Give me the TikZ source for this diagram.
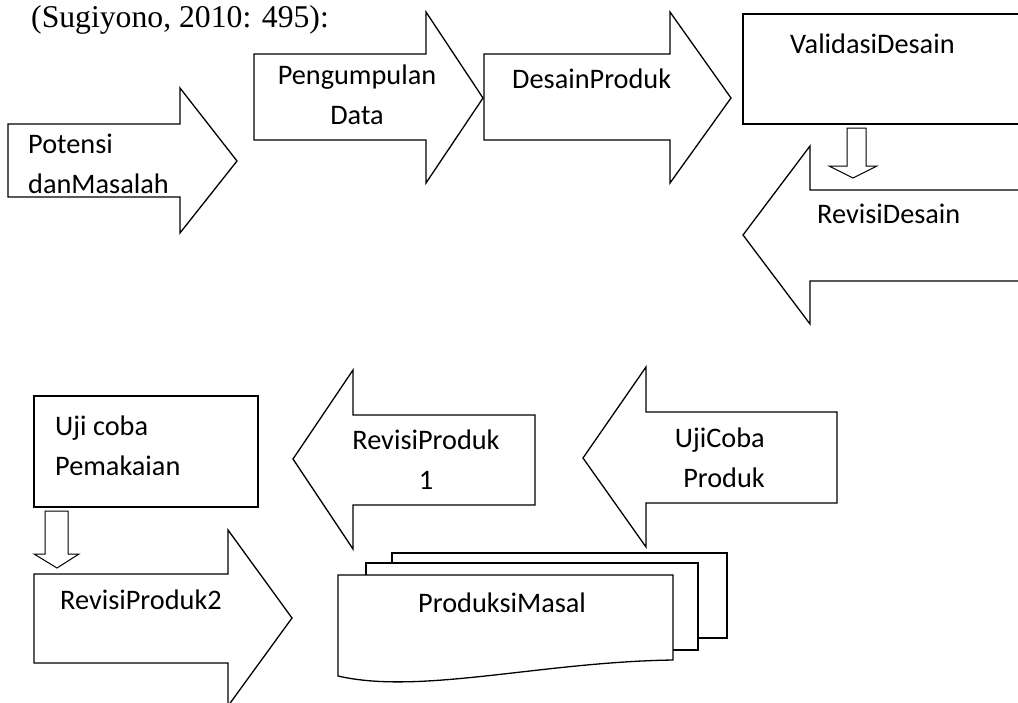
\documentclass[tikz,border=0pt]{standalone}
\usepackage{fontspec}
\setmainfont{Carlito}
\newfontfamily\timesf{Liberation Serif}
\begin{document}
\begin{tikzpicture}[x=1pt,y=-1pt,
  shp/.style={draw=black,line width=1.3pt,line join=miter,fill=white},
  lbl/.style={inner sep=0pt,font=\fontsize{28.3}{40}\selectfont}]
\useasboundingbox (0,0) rectangle (1018,702);
\clip (0,0) rectangle (1018,702);
% title
\node[inner sep=0pt,anchor=base west,font=\timesf\fontsize{31.7}{36}\selectfont] (title) at (31,27) {(Sugiyono, 2010: 495):};
% top row
\draw[shp] (8,124) -- (180,124) -- (180,88) -- (237,161) -- (180,233) -- (180,197) -- (8,197) -- cycle;
\draw[shp] (254,54) -- (426,54) -- (426,12) -- (483,98) -- (426,183) -- (426,140) -- (254,140) -- cycle;
\draw[shp] (484,54) -- (670,54) -- (670,12) -- (731,98) -- (670,183) -- (670,140) -- (484,140) -- cycle;
\draw[shp] (743,14) rectangle (1030,124);
\draw[shp] (1030,190) -- (810,190) -- (810,146) -- (743,235) -- (810,324) -- (810,281) -- (1030,281) -- cycle;
\draw[shp,line width=1pt] (847,128) -- (866,128) -- (866,166) -- (877,166) -- (853,178) -- (829,166) -- (847,166) -- cycle;
% bottom row
\draw[shp] (34,396) rectangle (258,507);
\draw[shp,line width=1pt] (45,511) -- (68,511) -- (68,554) -- (79,554) -- (57,568) -- (34,554) -- (45,554) -- cycle;
\draw[shp] (34,574) -- (228,574) -- (228,530) -- (292,618) -- (228,706) -- (228,663) -- (34,663) -- cycle;
\draw[shp] (535,415) -- (353,415) -- (353,370) -- (293,459) -- (353,549) -- (353,505) -- (535,505) -- cycle;
\draw[shp] (837,412) -- (646,412) -- (646,367) -- (583,458) -- (646,547) -- (646,503) -- (837,503) -- cycle;
% multidocument
\draw[shp] (392,563) -- (392,553) -- (727,553) -- (727,638) -- (698,638);
\draw[shp] (366,575) -- (366,563) -- (698,563) -- (698,650) -- (673,650);
\draw[shp] (338,575) -- (673,575) -- (673,660) .. controls (540,662) and (420,695) .. (338,676) -- cycle;
% labels (base anchor = baseline of the last line)
\node[lbl,anchor=base west,align=left] (potensi) at (28,193) {Potensi\\danMasalah};
\node[lbl,anchor=base,align=center] (pengumpulan) at (357,124) {Pengumpulan\\Data};
\node[lbl,anchor=base west] (desain) at (512,88) {DesainProduk};
\node[lbl,anchor=base west] (validasi) at (790,53) {ValidasiDesain};
\node[lbl,anchor=base west] (revdesain) at (817,223) {RevisiDesain};
\node[lbl,anchor=base west,align=left] (ujipakai) at (55,475) {Uji coba\\Pemakaian};
\node[lbl,anchor=base,align=center] (revproduk1) at (426,489) {RevisiProduk\\1};
\node[lbl,anchor=base west] (revproduk2) at (60,609) {RevisiProduk2};
\node[lbl,anchor=base east,align=right] (ujiproduk) at (765,487) {UjiCoba\\Produk};
\node[lbl,anchor=base west] (masal) at (418,612) {ProduksiMasal};
\end{tikzpicture}
\end{document}
